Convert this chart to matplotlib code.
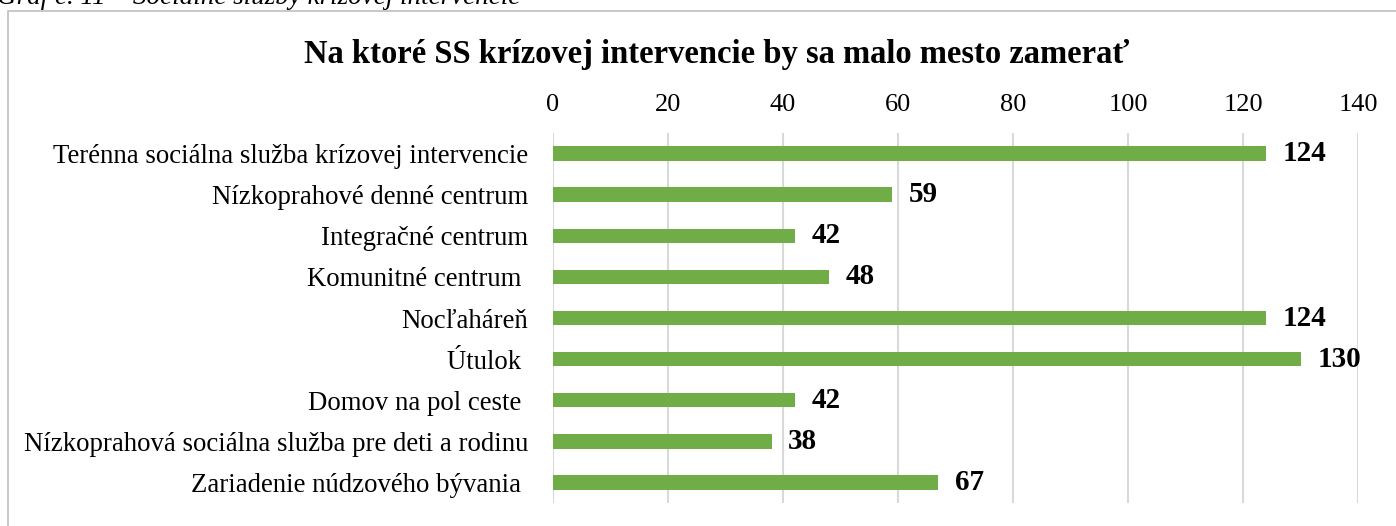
import matplotlib.pyplot as plt
from matplotlib.patches import Rectangle

plt.rcParams['font.family'] = ['Liberation Serif', 'DejaVu Serif']

# Data
categories = [
    'Terénna sociálna služba krízovej intervencie',
    'Nízkoprahové denné centrum',
    'Integračné centrum',
    'Komunitné centrum ',
    'Nocľaháreň',
    'Útulok ',
    'Domov na pol ceste ',
    'Nízkoprahová sociálna služba pre deti a rodinu',
    'Zariadenie núdzového bývania ',
]
values = [124, 59, 42, 48, 124, 130, 42, 38, 67]
xticks = [0, 20, 40, 60, 80, 100, 120, 140]

fig = plt.figure(figsize=(13.96, 5.26), dpi=100)

# chart frame
fig.patches.append(Rectangle((8 / 1396, -0.05), 1.1, 1 - 11 / 526 + 0.05,
                             transform=fig.transFigure, fill=False,
                             edgecolor='#BFBFBF', linewidth=1.2))

fig.text(-0.002, 1.0 + 3 / 526, 'Graf č. 11 – Sociálne služby krízovej intervencie',
         fontsize=19.5, style='italic', ha='left', va='center')

ax = fig.add_axes([553 / 1396, 23 / 526, 805 / 1396, 370 / 526])
y = list(range(len(categories)))
ax.barh(y, values, height=0.35, color='#70AD47', zorder=3)
for yi, v in zip(y, values):
    ax.annotate(str(v), (v, yi), xytext=(12, 0), textcoords='offset points',
                ha='left', va='center', fontsize=21, fontweight='bold')

ax.set_xlim(0, 140)
ax.set_ylim(len(categories) - 0.5, -0.5)
ax.set_xticks(xticks)
ax.set_yticks(y)
ax.set_yticklabels(categories, fontsize=19.3)
ax.xaxis.tick_top()
ax.tick_params(axis='x', labelsize=19, length=0, pad=12)
ax.tick_params(axis='y', length=0, pad=18)
ax.grid(axis='x', color='#D9D9D9', linewidth=1.5, zorder=0)
for s in ax.spines.values():
    s.set_visible(False)

fig.text(717 / 1396, 1 - 54 / 526, 'Na ktoré SS krízovej intervencie by sa malo mesto zamerať',
         fontsize=23.5, fontweight='bold', ha='center', va='center')

fig.savefig('out.png', dpi=100)
